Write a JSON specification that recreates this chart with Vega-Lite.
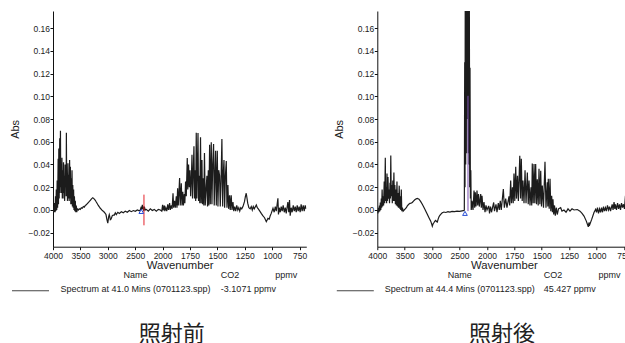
{
"$schema": "https://vega.github.io/schema/vega-lite/v6.json",
"background": "white",
"padding": {"left": 9, "top": 11, "right": -5, "bottom": 0},
"bounds": "flush",
"columns": 2,
"spacing": {"row": 28.3, "column": 70.3},
"config": {
  "view": {"stroke": null},
  "font": "Liberation Sans",
  "axis": {"grid": false, "domainColor": "#111", "tickColor": "#111", "labelColor": "#222", "titleColor": "#222", "labelFont": "Liberation Sans", "titleFont": "Liberation Sans", "titleFontWeight": "normal", "tickSize": 3, "labelFontSize": 8.5, "domainWidth": 1, "tickWidth": 1, "labelFlush": false, "labelOverlap": false, "labelBound": false}
},
"datasets": {
"before": [
{"w":4000,"a":0},{"w":3992,"a":-0.002},{"w":3985,"a":0.003},{"w":3978,"a":-0.002},{"w":3970,"a":0.006},{"w":3962,"a":-0.002},{"w":3955,"a":0.012},{"w":3948,"a":-0.001},{"w":3940,"a":0.018},{"w":3932,"a":0},{"w":3924,"a":0.026},{"w":3916,"a":0.002},{"w":3906,"a":0.045},{"w":3900,"a":0.005},{"w":3894,"a":0.054},{"w":3887,"a":0.01},{"w":3877,"a":0.063},{"w":3871,"a":0.015},{"w":3864,"a":0.0697},{"w":3858,"a":0.02},{"w":3851,"a":0.04},{"w":3844,"a":0.015},{"w":3837,"a":0.046},{"w":3830,"a":0.01},{"w":3823,"a":0.035},{"w":3816,"a":0.01},{"w":3808,"a":0.042},{"w":3801,"a":0.015},{"w":3794,"a":0.03},{"w":3787,"a":0.008},{"w":3779,"a":0.04},{"w":3772,"a":0.02},{"w":3764,"a":0.035},{"w":3760,"a":0.012},{"w":3756,"a":0.068},{"w":3750,"a":0.02},{"w":3743,"a":0.03},{"w":3736,"a":0.008},{"w":3727,"a":0.041},{"w":3720,"a":0.01},{"w":3712,"a":0.031},{"w":3705,"a":0.008},{"w":3697,"a":0.044},{"w":3690,"a":0.01},{"w":3683,"a":0.038},{"w":3675,"a":0.005},{"w":3668,"a":0.028},{"w":3661,"a":0.005},{"w":3653,"a":0.035},{"w":3646,"a":0.003},{"w":3639,"a":0.022},{"w":3631,"a":0.002},{"w":3624,"a":0.018},{"w":3617,"a":0},{"w":3609,"a":0.012},{"w":3602,"a":-0.001},{"w":3593,"a":0.008},{"w":3584,"a":-0.002},{"w":3575,"a":0.004},{"w":3566,"a":-0.002},{"w":3557,"a":0.001},
{"w":3538,"a":0},{"w":3520,"a":0.001},{"w":3502,"a":0.0005},{"w":3483,"a":0.002},{"w":3465,"a":0.0015},{"w":3447,"a":0.003},{"w":3429,"a":0.0025},{"w":3410,"a":0.004},{"w":3392,"a":0.0045},{"w":3374,"a":0.0055},{"w":3356,"a":0.0065},{"w":3337,"a":0.0075},{"w":3319,"a":0.0085},{"w":3301,"a":0.0095},{"w":3288,"a":0.0102},{"w":3274,"a":0.0107},{"w":3260,"a":0.0102},{"w":3246,"a":0.0095},{"w":3228,"a":0.0085},{"w":3210,"a":0.007},{"w":3191,"a":0.0055},{"w":3173,"a":0.004},{"w":3155,"a":0.0028},{"w":3137,"a":0.0015},{"w":3118,"a":0.0005},{"w":3100,"a":-0.0005},{"w":3082,"a":-0.001},{"w":3064,"a":-0.002},{"w":3048,"a":-0.003},{"w":3033,"a":-0.004},{"w":3018,"a":-0.008},{"w":3000,"a":-0.0115},{"w":2985,"a":-0.006},{"w":2973,"a":-0.004},{"w":2963,"a":-0.006},{"w":2954,"a":-0.0085},{"w":2945,"a":-0.0082},{"w":2936,"a":-0.0075},{"w":2918,"a":-0.005},{"w":2900,"a":-0.0045},{"w":2881,"a":-0.0045},{"w":2863,"a":-0.0025},{"w":2845,"a":-0.004},{"w":2817,"a":-0.002},{"w":2790,"a":-0.003},{"w":2753,"a":-0.0015},{"w":2717,"a":-0.0025},{"w":2681,"a":-0.001},{"w":2644,"a":-0.002},{"w":2607,"a":-0.0005},{"w":2571,"a":-0.0015},{"w":2534,"a":-0.0005},{"w":2498,"a":-0.0012},{"w":2461,"a":0},{"w":2425,"a":-0.0008},
{"w":2407,"a":0},{"w":2389,"a":0.003},{"w":2380,"a":0},{"w":2370,"a":0.0045},{"w":2361,"a":0.001},{"w":2352,"a":0.003},{"w":2343,"a":-0.001},{"w":2334,"a":0.003},{"w":2316,"a":0},{"w":2297,"a":0.0005},{"w":2261,"a":-0.001},{"w":2224,"a":0.001},{"w":2188,"a":-0.0005},{"w":2151,"a":0.0005},{"w":2115,"a":-0.001},{"w":2078,"a":0.0005},{"w":2042,"a":0},{"w":2015,"a":-0.001},{"w":2000,"a":0.0045},{"w":1996,"a":0},
{"w":1994,"a":0},{"w":1984.5,"a":0.004},{"w":1980,"a":-0.001},{"w":1971,"a":0.002},{"w":1962,"a":-0.001},{"w":1953,"a":0.005},{"w":1946,"a":0},{"w":1936,"a":0.006},{"w":1930,"a":0},{"w":1920.6,"a":0.004},{"w":1913,"a":0.001},{"w":1905,"a":0.0147},{"w":1899,"a":0.002},{"w":1891,"a":0.008},{"w":1884,"a":0.002},{"w":1875,"a":0.012},{"w":1869,"a":0.002},{"w":1863,"a":0.019},{"w":1857,"a":0.004},{"w":1850.5,"a":0.016},{"w":1845,"a":0.028},{"w":1839,"a":0.004},{"w":1829.4,"a":0.0235},{"w":1823,"a":0.004},{"w":1816,"a":0.016},{"w":1810,"a":0.004},{"w":1802,"a":0.014},{"w":1797,"a":0.006},{"w":1790.5,"a":0.025},{"w":1784,"a":0.012},{"w":1775,"a":0.0456},{"w":1770,"a":0.018},{"w":1763,"a":0.04},{"w":1757,"a":0.02},{"w":1750,"a":0.035},{"w":1744,"a":0.012},{"w":1737,"a":0.03},{"w":1732,"a":0.0485},{"w":1727,"a":0.01},{"w":1714,"a":0.056},{"w":1709,"a":0.01},{"w":1702,"a":0.035},{"w":1698,"a":0.008},{"w":1693,"a":0.068},{"w":1687.5,"a":0.01},{"w":1677,"a":0.0676},{"w":1672,"a":0.008},{"w":1665.6,"a":0.03},{"w":1661,"a":0.006},{"w":1654,"a":0.064},{"w":1648.5,"a":0.006},{"w":1641,"a":0.044},{"w":1636,"a":0.005},{"w":1629,"a":0.028},{"w":1624,"a":0.004},{"w":1618,"a":0.05},{"w":1611,"a":0.004},{"w":1601,"a":0.022},{"w":1595.5,"a":0.03},{"w":1590,"a":0.003},{"w":1583,"a":0.035},{"w":1578,"a":0.004},{"w":1571,"a":0.0573},{"w":1565,"a":0.005},{"w":1556,"a":0.0595},{"w":1550,"a":0.005},{"w":1543,"a":0.04},{"w":1535,"a":0.058},{"w":1529,"a":0.004},{"w":1517,"a":0.052},{"w":1510,"a":0.004},{"w":1501,"a":0.052},{"w":1495,"a":0.003},{"w":1488,"a":0.035},{"w":1480,"a":0.03},{"w":1474,"a":0.003},{"w":1467,"a":0.025},{"w":1459,"a":0.0625},{"w":1452,"a":0.003},{"w":1447,"a":0.03},{"w":1440,"a":0.044},{"w":1434,"a":0.002},{"w":1427,"a":0.03},{"w":1419,"a":0.043},{"w":1413,"a":0.002},{"w":1404,"a":0.022},{"w":1398,"a":0.001},{"w":1389,"a":0.013},{"w":1383,"a":0},{"w":1374,"a":0.013},{"w":1367,"a":0},{"w":1358,"a":0.007},{"w":1351,"a":-0.001},{"w":1342,"a":0.003},{"w":1333,"a":-0.001},{"w":1323.5,"a":0.004},{"w":1314,"a":0},{"w":1305,"a":0.002},{"w":1296,"a":-0.001},{"w":1287,"a":0.002},{"w":1278,"a":0.001},{"w":1267,"a":0.003},{"w":1253,"a":0.0073},{"w":1244.5,"a":0.012},{"w":1237,"a":0.0147},{"w":1231,"a":0.011},{"w":1223.5,"a":0.006},{"w":1213,"a":0.002},{"w":1201,"a":0.001},{"w":1191,"a":0.003},{"w":1182,"a":0},{"w":1173,"a":0.003},{"w":1164,"a":0.001},{"w":1145,"a":0.0044},{"w":1136,"a":0.002},{"w":1127,"a":0.001},{"w":1113,"a":-0.001},{"w":1100,"a":-0.003},{"w":1086,"a":-0.005},{"w":1070,"a":-0.0068},{"w":1054,"a":-0.0103},{"w":1045,"a":-0.0085},{"w":1039,"a":-0.0073},{"w":1027,"a":-0.008},{"w":1018,"a":-0.005},{"w":1009,"a":-0.003},{"w":993,"a":0.0015},{"w":982,"a":-0.002},{"w":972,"a":0.003},{"w":963,"a":-0.001},{"w":948,"a":0.0103},{"w":943,"a":-0.004},{"w":936,"a":0.002},{"w":927,"a":-0.002},{"w":918,"a":0.003},{"w":909,"a":-0.001},{"w":900,"a":0.004},{"w":890,"a":-0.002},{"w":881,"a":0.002},{"w":872,"a":-0.003},{"w":857,"a":0.007},{"w":849,"a":-0.002},{"w":842,"a":0.0088},{"w":836,"a":-0.005},{"w":827,"a":0.002},{"w":818,"a":-0.002},{"w":808,"a":0.004},{"w":799,"a":-0.001},{"w":790,"a":0.003},{"w":781,"a":-0.002},{"w":772,"a":0.004},{"w":763,"a":-0.001},{"w":754,"a":0.003},{"w":745,"a":-0.002},{"w":736,"a":0.005},{"w":727,"a":-0.001},{"w":717,"a":0.004},{"w":708,"a":-0.001},{"w":699,"a":0.004},{"w":690,"a":0.001}
],
"after": [
{"w":4000,"a":0},{"w":3989,"a":-0.003},{"w":3980,"a":0.002},{"w":3971,"a":-0.002},{"w":3962,"a":0.004},{"w":3953,"a":-0.001},{"w":3945,"a":0.0065},{"w":3936,"a":0},{"w":3927,"a":0.01},{"w":3920,"a":0.002},{"w":3912,"a":0.018},{"w":3903,"a":0.003},{"w":3894,"a":0.012},{"w":3885,"a":0.004},{"w":3874,"a":0.025},{"w":3865,"a":0.006},{"w":3854,"a":0.046},{"w":3847,"a":0.008},{"w":3838,"a":0.02},{"w":3830,"a":0.006},{"w":3823,"a":0.032},{"w":3814,"a":0.008},{"w":3805,"a":0.029},{"w":3796,"a":0.01},{"w":3786,"a":0.018},{"w":3777,"a":0.006},{"w":3768,"a":0.024},{"w":3761,"a":0.01},{"w":3754,"a":0.048},{"w":3745,"a":0.012},{"w":3735,"a":0.022},{"w":3726,"a":0.006},{"w":3717,"a":0.026},{"w":3708,"a":0.008},{"w":3697,"a":0.033},{"w":3688,"a":0.008},{"w":3680,"a":0.022},{"w":3670,"a":0.005},{"w":3661,"a":0.018},{"w":3652,"a":0.004},{"w":3641,"a":0.025},{"w":3632,"a":0.003},{"w":3623,"a":0.015},{"w":3614,"a":0.002},{"w":3600,"a":0.0214},{"w":3590,"a":0.001},{"w":3581,"a":0.012},{"w":3572,"a":0},{"w":3562,"a":0.018},{"w":3553,"a":-0.001},{"w":3542,"a":0.002},{"w":3529,"a":-0.001},
{"w":3510,"a":0},{"w":3490,"a":0.001},{"w":3470,"a":0.002},{"w":3452.5,"a":0.0036},{"w":3430,"a":0.0048},{"w":3405,"a":0.0058},{"w":3385,"a":0.006},{"w":3361,"a":0.0066},{"w":3340,"a":0.0078},{"w":3315,"a":0.009},{"w":3290,"a":0.0098},{"w":3270,"a":0.0102},{"w":3255,"a":0.0099},{"w":3239,"a":0.0095},{"w":3210,"a":0.0075},{"w":3179,"a":0.005},{"w":3155,"a":0.0028},{"w":3129.5,"a":0.0005},{"w":3110,"a":-0.0015},{"w":3087.5,"a":-0.0038},{"w":3055,"a":-0.007},{"w":3025,"a":-0.0098},{"w":3010,"a":-0.012},{"w":2996,"a":-0.0143},{"w":2980,"a":-0.012},{"w":2965,"a":-0.011},{"w":2950,"a":-0.0098},{"w":2934,"a":-0.0092},{"w":2920,"a":-0.0102},{"w":2905,"a":-0.0107},{"w":2890,"a":-0.008},{"w":2874,"a":-0.006},{"w":2858,"a":-0.0048},{"w":2843,"a":-0.0038},{"w":2815,"a":-0.0025},{"w":2783,"a":-0.0018},{"w":2750,"a":-0.0022},{"w":2710,"a":-0.0015},{"w":2675,"a":-0.0018},{"w":2637,"a":-0.0012},{"w":2590,"a":-0.0015},{"w":2545,"a":-0.001},{"w":2500,"a":-0.0012},{"w":2454,"a":-0.0008},{"w":2430,"a":-0.0006},{"w":2418,"a":-0.0005},
{"w":2412,"a":0},{"w":2405,"a":0.13},{"w":2399.5,"a":0.02},{"w":2394,"a":0.25},{"w":2386.7,"a":0.04},{"w":2381,"a":0.3},{"w":2375.5,"a":0.05},{"w":2368.5,"a":0.3},{"w":2363,"a":0.08},{"w":2357.5,"a":0.3},{"w":2350,"a":0.1},{"w":2345,"a":0.3},{"w":2339,"a":0.05},{"w":2332,"a":0.25},{"w":2326.5,"a":0.04},{"w":2321,"a":0.2},{"w":2313.7,"a":0.02},{"w":2308,"a":0.125},{"w":2301,"a":0.01},{"w":2293.6,"a":0.035},{"w":2286,"a":0},
{"w":2271.7,"a":0.008},{"w":2253.5,"a":0},{"w":2235,"a":0.017},{"w":2222.5,"a":0.002},{"w":2211.5,"a":0.0155},{"w":2198.7,"a":0.003},{"w":2180.5,"a":0.017},{"w":2167.7,"a":0.004},{"w":2153,"a":0.014},{"w":2138.5,"a":0.003},{"w":2113,"a":0.014},{"w":2102,"a":0.002},{"w":2089,"a":0.0125},{"w":2071,"a":0},{"w":2053,"a":0.007},{"w":2034.5,"a":-0.002},{"w":2016.3,"a":0.004},{"w":1999,"a":0},
{"w":1983.6,"a":0.0036},{"w":1976,"a":-0.003},{"w":1967,"a":0.003},{"w":1958,"a":-0.002},{"w":1938,"a":0.0066},{"w":1931,"a":-0.001},{"w":1917,"a":0.005},{"w":1908,"a":-0.002},{"w":1896,"a":0.006},{"w":1887,"a":0},{"w":1878,"a":0.008},{"w":1869,"a":0},{"w":1850,"a":0.0185},{"w":1841,"a":0.002},{"w":1828.5,"a":0.01},{"w":1817,"a":0.002},{"w":1798.5,"a":0.012},{"w":1792,"a":0.004},{"w":1783,"a":0.026},{"w":1776,"a":0.006},{"w":1767,"a":0.02},{"w":1760,"a":0.006},{"w":1753,"a":0.032},{"w":1745.5,"a":0.008},{"w":1737,"a":0.038},{"w":1730,"a":0.01},{"w":1721,"a":0.03},{"w":1713,"a":0.008},{"w":1700,"a":0.0477},{"w":1693,"a":0.01},{"w":1686,"a":0.045},{"w":1678,"a":0.008},{"w":1671,"a":0.026},{"w":1661.5,"a":0.006},{"w":1652,"a":0.035},{"w":1643,"a":0.006},{"w":1631,"a":0.033},{"w":1623,"a":0.005},{"w":1615.6,"a":0.026},{"w":1606.8,"a":0.004},{"w":1597.6,"a":0.02},{"w":1591,"a":0.004},{"w":1586,"a":0.0408},{"w":1577.6,"a":0.006},{"w":1570,"a":0.0405},{"w":1563,"a":0.006},{"w":1555,"a":0.0405},{"w":1547.5,"a":0.005},{"w":1540,"a":0.027},{"w":1532,"a":0.004},{"w":1524.6,"a":0.0363},{"w":1517,"a":0.005},{"w":1509,"a":0.0345},{"w":1502,"a":0.003},{"w":1494.5,"a":0.0214},{"w":1483.6,"a":0.002},{"w":1470,"a":0.0423},{"w":1461,"a":0.002},{"w":1449,"a":0.0244},{"w":1444.3,"a":0.003},{"w":1440,"a":0.0274},{"w":1431.6,"a":0.001},{"w":1424,"a":0.0274},{"w":1417,"a":-0.001},{"w":1409,"a":0.0125},{"w":1402.4,"a":-0.002},{"w":1397,"a":0.0095},{"w":1390.5,"a":-0.004},{"w":1383,"a":0.004},{"w":1376,"a":-0.005},{"w":1367,"a":0.002},{"w":1358,"a":-0.004},{"w":1347,"a":0.001},{"w":1327,"a":0.002},{"w":1315,"a":-0.001},{"w":1297,"a":0},{"w":1278,"a":-0.002},{"w":1260,"a":0.001},{"w":1242,"a":-0.001},{"w":1223.5,"a":0.001},{"w":1205,"a":0},{"w":1175,"a":0.0004},{"w":1150.5,"a":-0.001},{"w":1132,"a":-0.003},{"w":1114,"a":-0.0054},{"w":1093,"a":-0.0098},{"w":1075,"a":-0.0148},{"w":1069,"a":-0.011},{"w":1062,"a":-0.013},{"w":1044,"a":-0.0083},{"w":1023,"a":-0.0023},{"w":1008,"a":0.0006},
{"w":1000,"a":-0.002},{"w":991,"a":0.002},{"w":982,"a":-0.003},{"w":972,"a":0.001},{"w":963,"a":-0.002},{"w":954,"a":0.002},{"w":945,"a":-0.002},{"w":936,"a":0.003},{"w":927,"a":-0.001},{"w":918,"a":0.002},{"w":909,"a":-0.001},{"w":900,"a":0.004},{"w":890,"a":0},{"w":881,"a":0.003},{"w":872,"a":-0.001},{"w":857,"a":0.005},{"w":849,"a":0},{"w":840,"a":0.007},{"w":833,"a":0.001},{"w":827,"a":0.005},{"w":818,"a":0},{"w":808,"a":0.006},{"w":799,"a":0.001},{"w":790,"a":0.005},{"w":781,"a":0},{"w":772,"a":0.006},{"w":763,"a":0.002},{"w":754,"a":0.005},{"w":745,"a":0.001},{"w":736,"a":0.0125},{"w":731,"a":0.001},{"w":727,"a":0.007},{"w":717,"a":0.002},{"w":708,"a":0.008},{"w":699,"a":0.003},{"w":690,"a":0.006}
],
"markers": [
{"panel":"L","kind":"rule","w":2340,"a":-0.0135,"a2":0.0135},
{"panel":"L","kind":"tri","w":2389,"a":-0.0013},
{"panel":"R","kind":"rule","w":2345,"a":-0.001,"a2":0.1004},
{"panel":"R","kind":"tri","w":2400,"a":-0.003}
],
"table": [
{"panel":"L","row":"h","col":"name","text":"Name"},
{"panel":"L","row":"h","col":"co2","text":"CO2"},
{"panel":"L","row":"h","col":"ppmv","text":"ppmv"},
{"panel":"L","row":"v","col":"sym","text":""},
{"panel":"L","row":"v","col":"name","text":"Spectrum at 41.0 Mins (0701123.spp)"},
{"panel":"L","row":"v","col":"co2","text":"-3.1071 ppmv"},
{"panel":"R","row":"h","col":"name","text":"Name"},
{"panel":"R","row":"h","col":"co2","text":"CO2"},
{"panel":"R","row":"h","col":"ppmv","text":"ppmv"},
{"panel":"R","row":"v","col":"sym","text":""},
{"panel":"R","row":"v","col":"name","text":"Spectrum at 44.4 Mins (0701123.spp)"},
{"panel":"R","row":"v","col":"co2","text":"45.427 ppmv"}
]
},
"concat": [
{
  "width": 253.3, "height": 235.7,
  "encoding": {
    "x": {"field": "w", "type": "quantitative", "scale": {"domain": [4000, 2000, 689], "range": [0, 109.6, 253.3], "nice": false, "zero": false}, "axis": {"title": "Wavenumber", "values": [4000,3500,3000,2500,2000,1750,1500,1250,1000,750], "format": "d", "labelPadding": 1.5, "titleFontSize": 11.3, "titlePadding": 0}},
    "y": {"field": "a", "type": "quantitative", "scale": {"domain": [-0.0323, 0.175], "nice": false, "zero": false}, "axis": {"title": "Abs", "values": [-0.02,0,0.02,0.04,0.06,0.08,0.1,0.12,0.14,0.16], "format": ".2f", "labelPadding": 0.5, "titleFontSize": 11, "titlePadding": 7.5}}
  },
  "layer": [
    {"data": {"name": "before"}, "mark": {"type": "line", "clip": true, "color": "#1c1c1c", "strokeWidth": 1.2}},
    {"data": {"name": "markers"}, "transform": [{"filter": "datum.panel == 'L' && datum.kind == 'rule'"}], "mark": {"type": "rule", "color": "#e3222b", "strokeWidth": 1}, "encoding": {"y2": {"field": "a2"}}},
    {"data": {"name": "markers"}, "transform": [{"filter": "datum.panel == 'L' && datum.kind == 'tri'"}], "mark": {"type": "point", "shape": "triangle-up", "size": 22, "filled": false, "color": "#2a4fd6", "strokeWidth": 1, "opacity": 1}}
  ]
},
{
  "width": 253.3, "height": 235.7,
  "encoding": {
    "x": {"field": "w", "type": "quantitative", "scale": {"domain": [4000, 2000, 689], "range": [0, 109.6, 253.3], "nice": false, "zero": false}, "axis": {"title": "Wavenumber", "values": [4000,3500,3000,2500,2000,1750,1500,1250,1000,750], "format": "d", "labelPadding": 1.5, "titleFontSize": 11.3, "titlePadding": 0}},
    "y": {"field": "a", "type": "quantitative", "scale": {"domain": [-0.0323, 0.175], "nice": false, "zero": false}, "axis": {"title": "Abs", "values": [-0.02,0,0.02,0.04,0.06,0.08,0.1,0.12,0.14,0.16], "format": ".2f", "labelPadding": 0.5, "titleFontSize": 11, "titlePadding": 7.5}}
  },
  "layer": [
    {"data": {"name": "after"}, "mark": {"type": "line", "clip": true, "color": "#1c1c1c", "strokeWidth": 1.2}},
    {"data": {"name": "markers"}, "transform": [{"filter": "datum.panel == 'R' && datum.kind == 'rule'"}], "mark": {"type": "rule", "color": "#7a4fb0", "strokeWidth": 1}, "encoding": {"y2": {"field": "a2"}}},
    {"data": {"name": "markers"}, "transform": [{"filter": "datum.panel == 'R' && datum.kind == 'tri'"}], "mark": {"type": "point", "shape": "triangle-up", "size": 22, "filled": false, "color": "#2a4fd6", "strokeWidth": 1, "opacity": 1}}
  ]
},
{
  "width": 253.3, "height": 14,
  "data": {"name": "table"},
  "transform": [{"filter": "datum.panel == 'L'"}],
  "title": {"text": "照射前", "orient": "bottom", "anchor": "middle", "frame": "group", "font": "Noto Sans CJK JP", "fontSize": 22, "fontWeight": "normal", "color": "#222", "offset": 29.5, "dx": -8},
  "encoding": {
    "x": {"field": "col", "type": "nominal", "scale": {"type": "point", "domain": ["sym","name","co2","ppmv"], "padding": 0}, "axis": null},
    "y": {"field": "row", "type": "nominal", "scale": {"type": "point", "domain": ["h","v"], "padding": 0}, "axis": null}
  },
  "layer": [
    {"transform": [{"filter": "datum.col == 'name'"}], "mark": {"type": "text", "align": "center", "baseline": "middle", "dx": -2, "fontSize": 9, "color": "#222"}, "encoding": {"text": {"field": "text"}}},
    {"transform": [{"filter": "datum.col == 'co2'"}], "mark": {"type": "text", "align": "left", "baseline": "middle", "dx": -1, "fontSize": 9, "color": "#222"}, "encoding": {"text": {"field": "text"}}},
    {"transform": [{"filter": "datum.col == 'ppmv'"}], "mark": {"type": "text", "align": "left", "baseline": "middle", "dx": -31, "fontSize": 9, "color": "#222"}, "encoding": {"text": {"field": "text"}}},
    {"transform": [{"filter": "datum.col == 'sym'"}], "mark": {"type": "tick", "orient": "horizontal", "size": 37, "thickness": 1, "xOffset": -22.5, "yOffset": 1.5, "color": "#444", "opacity": 1}}
  ]
},
{
  "width": 253.3, "height": 14,
  "data": {"name": "table"},
  "transform": [{"filter": "datum.panel == 'R'"}],
  "title": {"text": "照射後", "orient": "bottom", "anchor": "middle", "frame": "group", "font": "Noto Sans CJK JP", "fontSize": 22, "fontWeight": "normal", "color": "#222", "offset": 29.5, "dx": -2},
  "encoding": {
    "x": {"field": "col", "type": "nominal", "scale": {"type": "point", "domain": ["sym","name","co2","ppmv"], "padding": 0}, "axis": null},
    "y": {"field": "row", "type": "nominal", "scale": {"type": "point", "domain": ["h","v"], "padding": 0}, "axis": null}
  },
  "layer": [
    {"transform": [{"filter": "datum.col == 'name'"}], "mark": {"type": "text", "align": "center", "baseline": "middle", "dx": -2, "fontSize": 9, "color": "#222"}, "encoding": {"text": {"field": "text"}}},
    {"transform": [{"filter": "datum.col == 'co2'"}], "mark": {"type": "text", "align": "left", "baseline": "middle", "dx": -2.5, "fontSize": 9, "color": "#222"}, "encoding": {"text": {"field": "text"}}},
    {"transform": [{"filter": "datum.col == 'ppmv'"}], "mark": {"type": "text", "align": "left", "baseline": "middle", "dx": -32, "fontSize": 9, "color": "#222"}, "encoding": {"text": {"field": "text"}}},
    {"transform": [{"filter": "datum.col == 'sym'"}], "mark": {"type": "tick", "orient": "horizontal", "size": 37, "thickness": 1, "xOffset": -22, "yOffset": 1.5, "color": "#444", "opacity": 1}}
  ]
}
]
}
